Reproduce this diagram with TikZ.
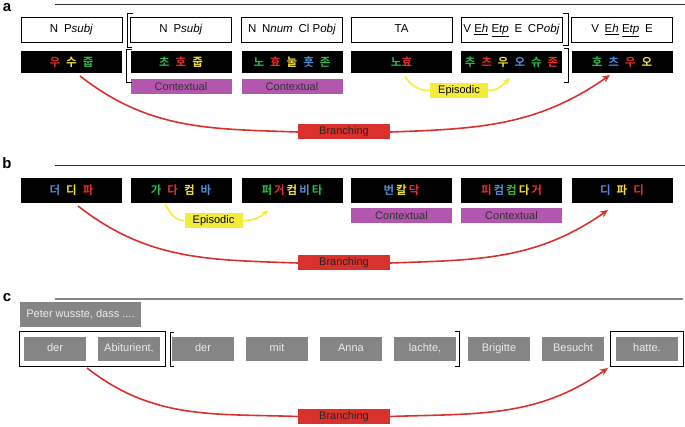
\documentclass[tikz,border=0pt]{standalone}
\usepackage{fontspec}
\setmainfont{Liberation Sans}
\newfontfamily\krfont{Noto Sans CJK KR Bold}
\usetikzlibrary{arrows.meta}
\definecolor{kred}{HTML}{E8302A}
\definecolor{kyel}{HTML}{F2E233}
\definecolor{kgrn}{HTML}{2DB84C}
\definecolor{kblu}{HTML}{4A8FD8}
\definecolor{ctxcol}{HTML}{B256AE}
\definecolor{epicol}{HTML}{F3EC3A}
\definecolor{brcol}{HTML}{D9312B}
\definecolor{grycol}{HTML}{858585}
\newcommand{\kR}[1]{\textcolor{kred}{#1}}
\newcommand{\kY}[1]{\textcolor{kyel}{#1}}
\newcommand{\kG}[1]{\textcolor{kgrn}{#1}}
\newcommand{\kB}[1]{\textcolor{kblu}{#1}}
\newcommand{\ks}{\hspace{6pt}}
\newcommand{\kt}{\hspace{2pt}}
\newcommand{\ul}[1]{\underline{#1}}
\tikzset{
  wbox/.style={draw=black,line width=0.8pt,fill=white,minimum width=101pt,minimum height=25pt,inner sep=0pt,text height=8pt,text depth=2.5pt,font=\fontsize{11.5}{13}\selectfont},
  kbox/.style={fill=black,minimum width=101pt,minimum height=22pt,inner sep=0pt,font=\krfont\fontsize{11.5}{12}\selectfont},
  ctxbox/.style={fill=ctxcol,minimum width=101pt,minimum height=15pt,inner sep=0pt,text=black!80,font=\fontsize{11}{13}\selectfont},
  epibox/.style={fill=epicol,minimum width=58pt,minimum height=15pt,inner sep=0pt,font=\fontsize{11}{13}\selectfont},
  brbox/.style={fill=brcol,minimum width=92pt,minimum height=15pt,inner sep=0pt,text=black!85,font=\fontsize{11}{13}\selectfont},
  gbox/.style={fill=grycol,minimum width=62pt,minimum height=24pt,inner sep=0pt,text height=8pt,text depth=2.5pt,text=white!92!black,font=\fontsize{11}{13}\selectfont},
  brline/.style={draw=brcol,line width=1.6pt},
  epiline/.style={draw=epicol,line width=1.6pt},
  panel/.style={font=\bfseries\fontsize{15}{17}\selectfont,inner sep=0pt}
}
\begin{document}
\begin{tikzpicture}[x=1pt,y=-1pt]
\useasboundingbox (0,0) rectangle (685,427);
\node[panel] (la) at (7,8) {a};
\node[panel] (lb) at (7,163) {b};
\node[panel] (lc) at (7,298) {c};
\draw [line width=0.8pt,black!80] (55,4) -- (685,4);
\draw [line width=0.8pt,black!80] (55,165) -- (685,165);
\draw [line width=1.2pt,grycol] (55,299) -- (683,299);

\node[wbox] (wa1) at (71.5,30) {N\enspace P\textit{subj}};
\node[wbox] (wa2) at (181,30) {N\enspace P\textit{subj}};
\node[wbox] (wa3) at (292,30) {N\enspace N\textit{num}\enspace Cl P\textit{obj}};
\node[wbox] (wa4) at (401.5,30) {TA};
\node[wbox] (wa5) at (511.5,30) {V \ul{E\textit{h}} \ul{E\textit{tp}}\enspace E\enspace CP\textit{obj}};
\node[wbox] (wa6) at (622,30) {V\enspace \ul{E\textit{h}} \ul{E\textit{tp}}\enspace E};
\node[kbox] (ka1) at (71.5,62) {\kR{우}\ks\kY{수}\ks\kG{줍}};
\node[kbox] (ka2) at (181,62) {\kG{초}\ks\kR{호}\ks\kY{줍}};
\node[kbox] (ka3) at (292,62) {\kG{노}\ks\kR{효}\ks\kY{눌}\ks\kB{훗}\ks\kG{존}};
\node[kbox] (ka4) at (401.5,62) {\kG{노}\kR{효}};
\node[kbox] (ka5) at (511.5,62) {\kG{추}\ks\kR{츠}\ks\kY{우}\ks\kB{오}\ks\kG{슈}\ks\kR{존}};
\node[kbox] (ka6) at (622,62) {\kG{호}\ks\kB{츠}\ks\kR{우}\ks\kY{오}};
\node[ctxbox] (ca2) at (181,86.5) {Contextual};
\node[ctxbox] (ca3) at (292,86.5) {Contextual};
\node[epibox] (ea) at (459,90.5) {Episodic};
\node[brbox] (ba) at (344,132) {Branching};
\draw [line width=0.9pt] (133,13) -- (127,13) -- (127,47) -- (132,47);
\draw [line width=0.9pt] (132,49) -- (126,49) -- (126,82) -- (132,82);
\draw [line width=0.9pt] (563,13) -- (568,13) -- (568,45) -- (563,45);
\draw [line width=0.9pt] (564,48) -- (568,48) -- (568,82) -- (564,82);
\coordinate (sa) at (80,76);
\coordinate (ta) at (610,75);
\coordinate (sea) at (405,76);
\coordinate (tea) at (510,78);
\draw [brline] (sa) to[out=-38,in=178] (ba.west);
\draw [brline,-{Stealth[length=8pt,width=7pt]}] (ba.east) to[out=2,in=-145] (ta);
\draw [epiline] (sea) to[out=-60,in=180] (ea.west);
\draw [epiline,-{Stealth[length=7pt,width=6pt]}] (ea.east) to[out=0,in=-135] (tea);

\node[kbox,minimum height=25pt] (kb1) at (71.5,190.5) {\kB{더}\ks\kY{디}\ks\kR{파}};
\node[kbox,minimum height=25pt] (kb2) at (181,190.5) {\kG{가}\ks\kR{다}\ks\kY{컴}\ks\kB{바}};
\node[kbox,minimum height=25pt] (kb3) at (292,190.5) {\kG{퍼}\kt\kR{거}\kt\kY{컴}\kt\kB{비}\kt\kG{타}};
\node[kbox,minimum height=25pt] (kb4) at (401.5,190.5) {\kB{번}\kt\kY{칼}\kt\kR{닥}};
\node[kbox,minimum height=25pt] (kb5) at (511.5,190.5) {\kR{피}\kt\kB{컴}\kt\kG{컴}\kt\kY{다}\kt\kR{거}};
\node[kbox,minimum height=25pt] (kb6) at (622,190.5) {\kB{디}\ks\kY{파}\ks\kR{디}};
\node[ctxbox] (cb4) at (401.5,216) {Contextual};
\node[ctxbox] (cb5) at (511.5,216) {Contextual};
\node[epibox] (eb) at (213.5,220.5) {Episodic};
\node[brbox] (bb) at (344,263) {Branching};
\coordinate (sb) at (78,206);
\coordinate (tb) at (608,210);
\coordinate (seb) at (165,204);
\coordinate (teb) at (268,210);
\draw [brline] (sb) to[out=-38,in=178] (bb.west);
\draw [brline,-{Stealth[length=8pt,width=7pt]}] (bb.east) to[out=2,in=-145] (tb);
\draw [epiline] (seb) to[out=-60,in=180] (eb.west);
\draw [epiline,-{Stealth[length=7pt,width=6pt]}] (eb.east) to[out=0,in=-135] (teb);

\node[gbox,minimum width=121pt,minimum height=25pt] (pw) at (80.5,314.5) {Peter wusste, dass ....};
\foreach \w [count=\i from 0] in {der,{Abiturient,},der,mit,Anna,{lachte,},Brigitte,Besucht,hatte.}
  \node[gbox] (c\i) at (55+74*\i,349) {\w};
\draw [line width=0.9pt] ([shift={(-4,-5)}]c0.north west) rectangle ([shift={(5,5)}]c1.south east);
\draw [line width=0.9pt] ([shift={(-5,-5)}]c8.north west) rectangle ([shift={(5,5)}]c8.south east);
\draw [line width=0.9pt] (174,332) -- (170,332) -- (170,366) -- (174,366);
\draw [line width=0.9pt] (455,331) -- (459,331) -- (459,366) -- (455,366);
\node[brbox] (bc) at (344,416.5) {Branching};
\coordinate (sc) at (87,368);
\coordinate (tc) at (608,368);
\draw [brline] (sc) to[out=-38,in=178] (bc.west);
\draw [brline,-{Stealth[length=8pt,width=7pt]}] (bc.east) to[out=2,in=-145] (tc);
\end{tikzpicture}
\end{document}
